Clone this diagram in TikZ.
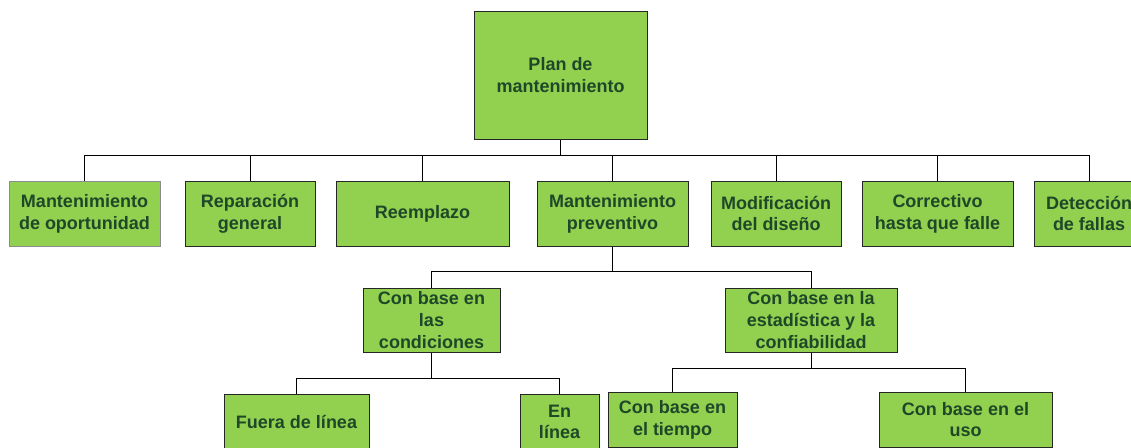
\documentclass[tikz,border=0pt]{standalone}
\usepackage{fontspec}
\setmainfont{Liberation Sans}
\definecolor{boxfill}{RGB}{146,208,80}
\definecolor{boxtext}{RGB}{30,72,40}
\begin{document}
\begin{tikzpicture}[x=1pt,y=-1pt,
  box/.style={draw=black!85,line width=1pt,fill=boxfill,text=boxtext,
    font=\fontsize{18}{21.7}\selectfont\bfseries,align=center,
    inner sep=0pt,minimum width=#1},
  conn/.style={draw=black,line width=1pt}]
\useasboundingbox (0,0) rectangle (1131,447);
% root
\node[box=173pt,minimum height=128pt] (root) at (560.5,75) {Plan de\\mantenimiento};
% level 1
\begin{scope}[every node/.append style={minimum height=65pt}]
\node[box=151pt,draw=black!45] (a) at (84.5,213.5) {Mantenimiento\\de oportunidad};
\node[box=130pt] (b) at (250,213.5) {Reparación\\general};
\node[box=173pt] (c) at (422.5,213.5) {Reemplazo};
\node[box=151pt] (d) at (612.5,213.5) {Mantenimiento\\preventivo};
\node[box=130pt] (e) at (776,213.5) {Modificación\\del diseño};
\node[box=151pt] (f) at (937.5,213.5) {Correctivo\\hasta que falle};
\node[box=110pt] (g) at (1089,213.5) {Detección\\de fallas};
\end{scope}
% level 2
\node[box=137pt,minimum height=64pt] (h) at (431.5,320) {Con base en\\las\\condiciones};
\node[box=172pt,minimum height=64pt] (i) at (811,320) {Con base en la\\estadística y la\\confiabilidad};
% level 3
\node[box=145pt,minimum height=56pt] (j) at (296.5,422) {Fuera de línea};
\node[box=79pt,minimum height=56pt] (k) at (559.5,422) {En\\línea};
\node[box=129pt,minimum height=55pt] (l) at (672.5,419.5) {Con base en\\el tiempo};
\node[box=173pt,minimum height=55pt] (m) at (965.5,419.5) {Con base en el\\uso};
% connectors
\coordinate (bus1) at (560.5,155);
\draw[conn] (root.south) -- (bus1);
\foreach \n in {a,b,c,d,e,f,g} \draw[conn] (bus1) -| (\n.north);
\coordinate (bus2) at (612.5,271);
\draw[conn] (d.south) -- (bus2);
\foreach \n in {h,i} \draw[conn] (bus2) -| (\n.north);
\coordinate (bus3) at (431.5,378);
\draw[conn] (h.south) -- (bus3);
\foreach \n in {j,k} \draw[conn] (bus3) -| (\n.north);
\coordinate (bus4) at (811,368);
\draw[conn] (i.south) -- (bus4);
\foreach \n in {l,m} \draw[conn] (bus4) -| (\n.north);
\end{tikzpicture}
\end{document}
